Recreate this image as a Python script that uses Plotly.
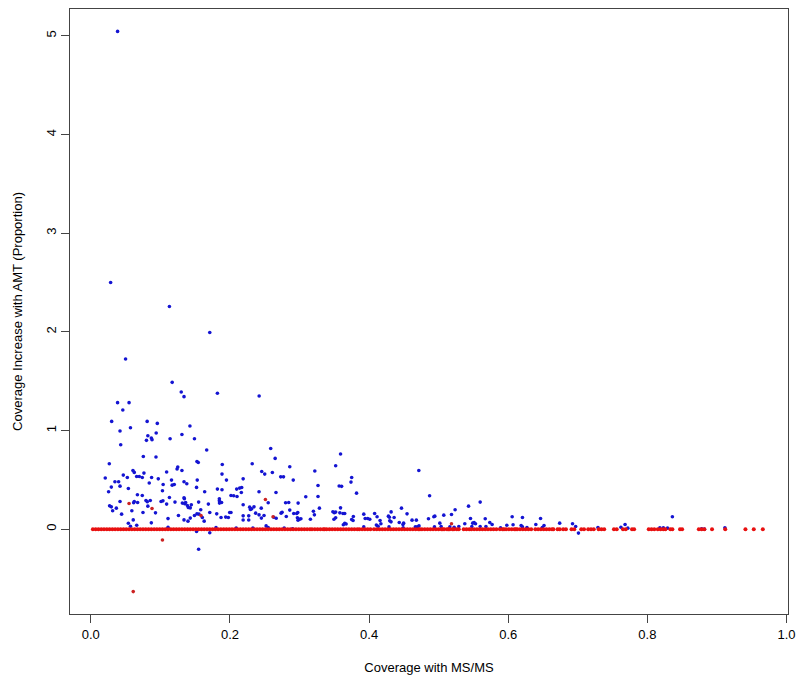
import plotly.graph_objects as go

# ---- data ----
blue_pts = [
    (0.0385, 5.045), (0.0285, 2.50), (0.113, 2.257), (0.171, 1.993),
    (0.050, 1.725), (0.117, 1.488), (0.130, 1.39), (0.134, 1.343), (0.182, 1.377), (0.242, 1.35),
    (0.0385, 1.282), (0.055, 1.282), (0.046, 1.208), (0.030, 1.092), (0.081, 1.092), (0.0956, 1.072),
    (0.057, 1.028), (0.042, 0.995), (0.1425, 1.046), (0.082, 0.947), (0.094, 0.975), (0.087, 0.924),
    (0.080, 0.90), (0.088, 0.907), (0.114, 0.917), (0.131, 0.96), (0.149, 0.917), (0.043, 0.856),
    (0.1666, 0.802), (0.0755, 0.737), (0.0937, 0.731), (0.0266, 0.663), (0.1526, 0.686), (0.1545, 0.676),
    (0.2586, 0.818), (0.265, 0.717), (0.232, 0.663), (0.189, 0.656), (0.124, 0.609), (0.125, 0.63),
    (0.131, 0.595), (0.109, 0.579), (0.0606, 0.595), (0.0625, 0.575), (0.0467, 0.548), (0.0659, 0.534),
    (0.0697, 0.534), (0.074, 0.524), (0.0764, 0.568), (0.0208, 0.518), (0.0525, 0.524), (0.0874, 0.524),
    (0.097, 0.51), (0.116, 0.497), (0.134, 0.48), (0.138, 0.46), (0.153, 0.497), (0.1886, 0.558),
    (0.195, 0.497), (0.219, 0.51), (0.2457, 0.585), (0.25, 0.558), (0.261, 0.574), (0.273, 0.53), (0.277, 0.53),
    (0.286, 0.632), (0.291, 0.497), (0.0347, 0.48), (0.040, 0.48), (0.0295, 0.426), (0.042, 0.436),
    (0.0256, 0.379), (0.054, 0.412), (0.084, 0.467), (0.104, 0.453), (0.117, 0.446), (0.12, 0.453),
    (0.152, 0.423), (0.103, 0.389), (0.067, 0.348), (0.074, 0.341), (0.1637, 0.379), (0.182, 0.406),
    (0.1886, 0.399), (0.2015, 0.341), (0.2054, 0.338), (0.2102, 0.331), (0.2097, 0.406), (0.214, 0.416),
    (0.2169, 0.422), (0.2164, 0.372), (0.2418, 0.379), (0.2662, 0.372),
    (0.042, 0.28), (0.0625, 0.28), (0.0616, 0.267), (0.0673, 0.27), (0.0793, 0.29), (0.0812, 0.277), (0.0855, 0.29),
    (0.113, 0.321), (0.1037, 0.287), (0.109, 0.254), (0.121, 0.274), (0.134, 0.318), (0.1345, 0.308),
    (0.1316, 0.264), (0.1363, 0.27), (0.1388, 0.24), (0.1402, 0.219), (0.143, 0.216), (0.1445, 0.247), (0.135, 0.257),
    (0.155, 0.274), (0.158, 0.196), (0.169, 0.254), (0.1848, 0.308), (0.1848, 0.287), (0.188, 0.27), (0.185, 0.264),
    (0.219, 0.247), (0.2294, 0.199), (0.2313, 0.206), (0.2346, 0.226), (0.2284, 0.223), (0.245, 0.213),
    (0.255, 0.267), (0.280, 0.267), (0.2845, 0.27), (0.298, 0.264), (0.286, 0.193), (0.275, 0.172), (0.2735, 0.162),
    (0.296, 0.158), (0.2975, 0.168),
    (0.0295, 0.226), (0.0314, 0.186), (0.0367, 0.213), (0.027, 0.236), (0.0443, 0.152), (0.059, 0.186),
    (0.075, 0.169), (0.082, 0.233), (0.093, 0.165), (0.101, 0.28), (0.111, 0.107), (0.126, 0.138),
    (0.134, 0.094), (0.1397, 0.081), (0.143, 0.112), (0.149, 0.138), (0.1526, 0.155), (0.1555, 0.152),
    (0.1603, 0.118), (0.163, 0.081), (0.171, 0.169), (0.181, 0.155), (0.1872, 0.118), (0.1939, 0.122),
    (0.1977, 0.118), (0.2015, 0.169), (0.1996, 0.169), (0.219, 0.135), (0.219, 0.092), (0.227, 0.135), (0.227, 0.092),
    (0.237, 0.162), (0.2418, 0.145), (0.2452, 0.112), (0.249, 0.138), (0.252, 0.033), (0.281, 0.128),
    (0.2917, 0.158), (0.297, 0.115), (0.2979, 0.091), (0.263, 0.12), (0.2665, 0.11),
    (0.054, 0.06), (0.057, 0.03), (0.061, 0.094), (0.066, 0.04), (0.087, 0.064), (0.111, 0.02),
    (0.152, -0.024), (0.171, -0.037), (0.155, -0.203),
    (0.209, 0.01), (0.233, 0.01), (0.278, 0.01), (0.29, 0.003), (0.18, 0.015), (0.255, 0.015),
    (0.359, 0.761), (0.352, 0.643), (0.322, 0.589), (0.375, 0.524), (0.374, 0.477), (0.3266, 0.443),
    (0.357, 0.437), (0.3605, 0.434), (0.382, 0.365), (0.309, 0.328), (0.3266, 0.331), (0.4715, 0.595),
    (0.487, 0.338), (0.5597, 0.274), (0.543, 0.233), (0.5237, 0.196), (0.3286, 0.213), (0.320, 0.182),
    (0.3214, 0.145), (0.302, 0.105), (0.300, 0.10), (0.3157, 0.10), (0.348, 0.177), (0.35, 0.167),
    (0.352, 0.173), (0.359, 0.216), (0.358, 0.165), (0.365, 0.158), (0.3625, 0.158), (0.352, 0.115),
    (0.3495, 0.101), (0.363, 0.045), (0.365, 0.059), (0.367, 0.052), (0.3774, 0.128), (0.377, 0.088),
    (0.375, 0.098), (0.3924, 0.152), (0.3924, 0.023), (0.3944, 0.108), (0.398, 0.108), (0.401, 0.101),
    (0.408, 0.158), (0.4115, 0.125), (0.4158, 0.087), (0.4105, 0.041), (0.417, 0.054), (0.413, 0.030),
    (0.4278, 0.132), (0.4292, 0.121), (0.4317, 0.175), (0.436, 0.118), (0.4297, 0.084), (0.4316, 0.074),
    (0.4287, 0.023), (0.4466, 0.213), (0.4546, 0.155), (0.4434, 0.067), (0.4497, 0.061), (0.4487, 0.047),
    (0.4618, 0.091), (0.468, 0.091), (0.4665, 0.023), (0.4694, 0.023), (0.4718, 0.033), (0.449, 0.013),
    (0.4854, 0.105), (0.4931, 0.125), (0.4945, 0.132), (0.5017, 0.061), (0.494, 0.023), (0.5036, 0.027),
    (0.5074, 0.142), (0.5185, 0.148), (0.5161, 0.023), (0.5223, 0.020), (0.529, 0.027), (0.5376, 0.054),
    (0.5458, 0.108), (0.549, 0.061), (0.551, 0.067), (0.553, 0.054), (0.5477, 0.027), (0.5597, 0.027),
    (0.567, 0.105), (0.568, 0.027), (0.5735, 0.067), (0.5769, 0.047), (0.589, 0.013), (0.598, 0.04),
    (0.6057, 0.125), (0.607, 0.044), (0.6186, 0.037), (0.6205, 0.118), (0.6205, 0.023), (0.627, 0.017),
    (0.6397, 0.047), (0.6465, 0.108), (0.6515, 0.037), (0.649, 0.017),
    (0.674, 0.061), (0.6925, 0.054), (0.701, -0.04), (0.697, 0.027), (0.729, 0.016), (0.768, 0.047),
    (0.762, 0.02), (0.772, 0.01), (0.836, 0.125), (0.818, 0.013), (0.823, 0.013), (0.829, 0.01),
    (0.878, 0.003), (0.882, 0.0), (0.9115, 0.013),
]

red_off_pts = [
    (0.055, 0.26), (0.088, 0.21), (0.103, -0.11), (0.061, -0.633),
    (0.251, 0.30), (0.262, 0.125), (0.5185, 0.054), (0.1584, 0.138),
]

red_zero_x = [
    0.003, 0.007, 0.011, 0.015, 0.019, 0.023, 0.027, 0.031, 0.035, 0.039,
    0.043, 0.047, 0.051, 0.055, 0.059, 0.063, 0.067, 0.071, 0.075, 0.079,
    0.083, 0.087, 0.091, 0.095, 0.099, 0.103, 0.107, 0.111, 0.115, 0.119,
    0.123, 0.127, 0.131, 0.135, 0.139, 0.143, 0.147, 0.151, 0.155, 0.159,
    0.163, 0.167, 0.171, 0.175, 0.179, 0.183, 0.187, 0.191, 0.195, 0.199,
    0.203, 0.207, 0.211, 0.215, 0.219, 0.223, 0.227, 0.231, 0.235, 0.239,
    0.243, 0.247, 0.251, 0.255, 0.259, 0.263, 0.267, 0.271, 0.275, 0.279,
    0.283, 0.287, 0.291, 0.295, 0.299, 0.303, 0.307, 0.311, 0.315,
    0.318, 0.322, 0.326, 0.330, 0.334, 0.336,
    0.339, 0.343, 0.347, 0.351, 0.355, 0.359, 0.363, 0.367,
    0.371, 0.375, 0.379, 0.383,
    0.386, 0.390, 0.394, 0.398, 0.402,
    0.407, 0.411, 0.415, 0.419, 0.423, 0.427, 0.431, 0.435, 0.439, 0.443,
    0.447, 0.451, 0.455, 0.459, 0.463, 0.467, 0.471, 0.473,
    0.476, 0.480, 0.484, 0.488, 0.492, 0.496, 0.500, 0.504, 0.506,
    0.508, 0.512, 0.514, 0.516, 0.520, 0.522, 0.526, 0.529,
    0.536, 0.540, 0.544,
    0.547, 0.551, 0.555, 0.559, 0.563, 0.567, 0.571, 0.575, 0.579, 0.583,
    0.588, 0.592, 0.594,
    0.597, 0.601, 0.605, 0.609, 0.611,
    0.613, 0.617, 0.621, 0.625, 0.629, 0.633,
    0.639, 0.643, 0.647, 0.651, 0.655, 0.659, 0.663, 0.665,
    0.671, 0.674, 0.679, 0.683, 0.691, 0.695, 0.705, 0.709,
    0.715, 0.719, 0.723, 0.730, 0.734, 0.738, 0.752, 0.756,
    0.765, 0.769, 0.778, 0.781, 0.802, 0.806, 0.810,
    0.815, 0.819, 0.823, 0.826, 0.833, 0.836, 0.847, 0.850,
    0.874, 0.878, 0.882, 0.893, 0.912, 0.941, 0.953, 0.966,
]
red_zero_y = [0.0] * len(red_zero_x)

x_ticks = [0.0, 0.2, 0.4, 0.6, 0.8, 1.0]
y_ticks = [0, 1, 2, 3, 4, 5]
x_title = "Coverage with MS/MS"
y_title = "Coverage Increase with AMT (Proportion)"

# ---- figure ----
bx = [p[0] for p in blue_pts]
by = [p[1] for p in blue_pts]
rx = [p[0] for p in red_off_pts]
ry = [p[1] for p in red_off_pts]

fig = go.Figure()
fig.add_trace(go.Scatter(x=bx, y=by, mode="markers",
                         marker=dict(color="#1414d2", size=3.6, line=dict(width=0)),
                         hoverinfo="x+y", showlegend=False))
fig.add_trace(go.Scatter(x=red_zero_x, y=red_zero_y, mode="markers",
                         marker=dict(color="#e81010", size=4, line=dict(width=0)),
                         hoverinfo="x+y", showlegend=False))
fig.add_trace(go.Scatter(x=rx, y=ry, mode="markers",
                         marker=dict(color="#cc2222", size=3.6, line=dict(width=0)),
                         hoverinfo="x+y", showlegend=False))

font_family = "Liberation Sans, Arial, Helvetica, sans-serif"
axis_common = dict(showgrid=False, zeroline=False, showline=True, mirror=True,
                   linecolor="#444444", linewidth=1, ticks="outside", ticklen=8,
                   tickcolor="#444444", tickwidth=1, automargin=False,
                   tickfont=dict(family=font_family, size=13, color="black"))

fig.update_layout(
    width=800, height=685,
    margin=dict(l=70, r=12, t=9, b=71),
    paper_bgcolor="white", plot_bgcolor="white",
    font=dict(family=font_family, size=13, color="black"),
    xaxis=dict(range=[-0.0299, 1.0022], tickvals=x_ticks,
               ticktext=[f"{v:.1f}" for v in x_ticks],
               title=dict(text=x_title, standoff=22,
                          font=dict(family=font_family, size=13)),
               **axis_common),
    yaxis=dict(range=[-0.86, 5.272], tickvals=y_ticks,
               ticktext=[str(v) for v in y_ticks], tickangle=-90,
               title=dict(text=y_title, standoff=18,
                          font=dict(family=font_family, size=13)),
               **axis_common),
)

fig.write_html(
    "out.html",
    config={"displayModeBar": False},
    post_script="document.body.style.margin='0';document.body.style.overflow='hidden';",
)
